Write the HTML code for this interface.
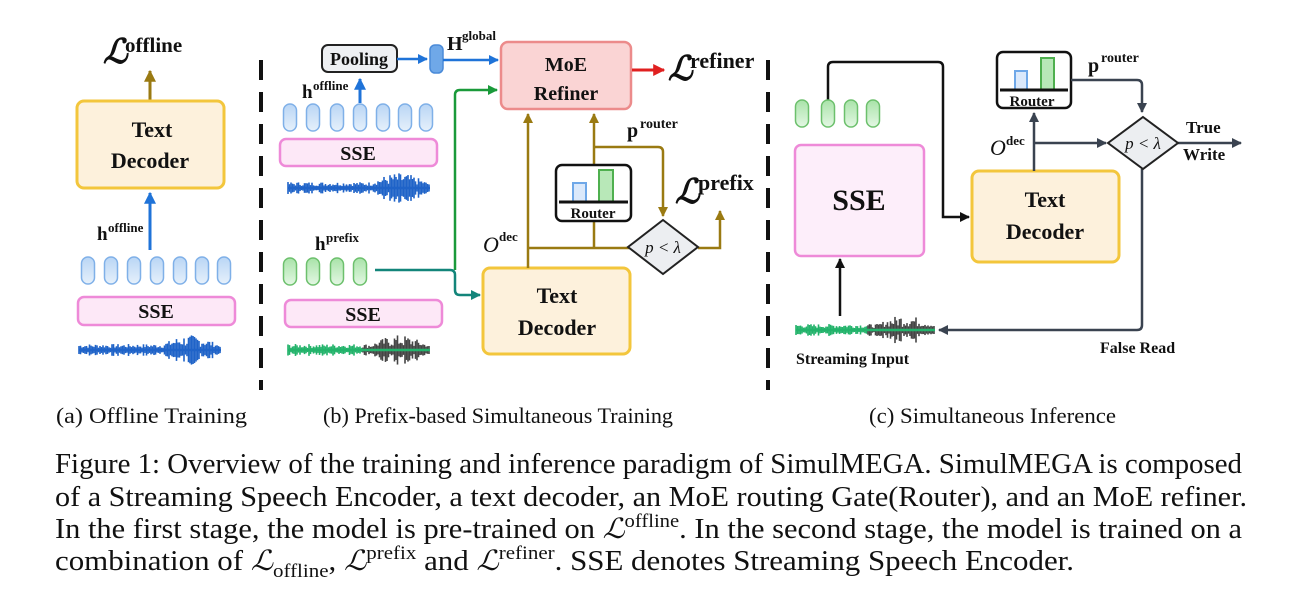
<!DOCTYPE html>
<html><head><meta charset="utf-8"><style>
html,body{margin:0;padding:0;background:#fff;}
svg{display:block;}
.b{font-family:"Liberation Serif",serif;font-weight:bold;fill:#111;}
.r{font-family:"Liberation Serif",serif;fill:#111;}
</style></head><body>
<svg id="s" width="1299" height="610" viewBox="0 0 1299 610" xmlns="http://www.w3.org/2000/svg">
<defs>
<linearGradient id="gb" x1="0" y1="0" x2="0" y2="1"><stop offset="0" stop-color="#b9d5f5"/><stop offset="1" stop-color="#e6f0fb"/></linearGradient>
<linearGradient id="gg" x1="0" y1="0" x2="0" y2="1"><stop offset="0" stop-color="#a9e3a9"/><stop offset="1" stop-color="#e3f7e3"/></linearGradient>
<marker id="aGold" viewBox="0 0 10 10" refX="9" refY="5" markerWidth="4" markerHeight="4" orient="auto"><path d="M0,0L10,5L0,10z" fill="#9a7a12"/></marker>
<marker id="aBlue" viewBox="0 0 10 10" refX="9" refY="5" markerWidth="4" markerHeight="4" orient="auto"><path d="M0,0L10,5L0,10z" fill="#1f73d8"/></marker>
<marker id="aRed" viewBox="0 0 10 10" refX="9" refY="5" markerWidth="4" markerHeight="4" orient="auto"><path d="M0,0L10,5L0,10z" fill="#e02020"/></marker>
<marker id="aGreen" viewBox="0 0 10 10" refX="9" refY="5" markerWidth="4" markerHeight="4" orient="auto"><path d="M0,0L10,5L0,10z" fill="#1a9a3a"/></marker>
<marker id="aTeal" viewBox="0 0 10 10" refX="9" refY="5" markerWidth="4" markerHeight="4" orient="auto"><path d="M0,0L10,5L0,10z" fill="#13857a"/></marker>
<marker id="aDark" viewBox="0 0 10 10" refX="9" refY="5" markerWidth="4" markerHeight="4" orient="auto"><path d="M0,0L10,5L0,10z" fill="#3a4350"/></marker>
<marker id="aBlack" viewBox="0 0 10 10" refX="9" refY="5" markerWidth="4" markerHeight="4" orient="auto"><path d="M0,0L10,5L0,10z" fill="#111"/></marker>
</defs>

<line x1="261" y1="60" x2="261" y2="390" stroke="#111" stroke-width="4" stroke-dasharray="20,12"/>
<line x1="768" y1="60" x2="768" y2="390" stroke="#111" stroke-width="4" stroke-dasharray="20,12"/>

<!-- Panel a -->
<text x="103" y="63" class="b" font-size="34" font-style="italic">ℒ</text>
<text x="125" y="52" class="b" font-size="21">offline</text>
<line x1="150" y1="100" x2="150" y2="71" stroke="#9a7a12" stroke-width="3" marker-end="url(#aGold)"/>
<rect x="77" y="101" width="147" height="87" rx="7" fill="#fdf1dc" stroke="#f3c63c" stroke-width="3"/>
<text x="152" y="137" class="b" font-size="22" text-anchor="middle">Text</text>
<text x="150" y="168" class="b" font-size="22" text-anchor="middle">Decoder</text>
<line x1="150" y1="250" x2="150" y2="193" stroke="#1f73d8" stroke-width="3" marker-end="url(#aBlue)"/>
<text x="97" y="240" class="b" font-size="19">h</text><text x="108" y="232" class="b" font-size="13">offline</text>
<rect x="78" y="297" width="157" height="28" rx="6" fill="#fde8f7" stroke="#ee8ad8" stroke-width="2.5"/>
<text x="156" y="318" class="b" font-size="20" text-anchor="middle">SSE</text>

<!-- Panel b -->
<rect x="322" y="45" width="75" height="27" rx="6" fill="#eef0f3" stroke="#222" stroke-width="2"/>
<text x="359" y="65" class="b" font-size="18" text-anchor="middle">Pooling</text>
<line x1="397" y1="59" x2="427" y2="59" stroke="#1f73d8" stroke-width="2.5" marker-end="url(#aBlue)"/>
<rect x="430" y="45" width="13" height="28" rx="5" fill="#6fa8e8" stroke="#4a8ad8" stroke-width="1.5"/>
<text x="447" y="50" class="b" font-size="20">H</text><text x="462" y="40" class="b" font-size="13">global</text>
<line x1="443" y1="60" x2="498" y2="60" stroke="#1f73d8" stroke-width="2.5" marker-end="url(#aBlue)"/>
<text x="302" y="98" class="b" font-size="19">h</text><text x="313" y="90" class="b" font-size="13">offline</text>
<line x1="360" y1="103" x2="360" y2="79" stroke="#1f73d8" stroke-width="3" marker-end="url(#aBlue)"/>
<rect x="280" y="139" width="157" height="27" rx="6" fill="#fde8f7" stroke="#ee8ad8" stroke-width="2.5"/>
<text x="358" y="160" class="b" font-size="20" text-anchor="middle">SSE</text>
<text x="315" y="250" class="b" font-size="19">h</text><text x="326" y="242" class="b" font-size="13">prefix</text>
<rect x="285" y="300" width="157" height="27" rx="6" fill="#fde8f7" stroke="#ee8ad8" stroke-width="2.5"/>
<text x="363" y="321" class="b" font-size="20" text-anchor="middle">SSE</text>

<path d="M375,270 H450 Q455,270 455,275 V290 Q455,295 460,295 H480" fill="none" stroke="#13857a" stroke-width="2.5" marker-end="url(#aTeal)"/>
<path d="M455,270 V95 Q455,90 460,90 H497" fill="none" stroke="#1a9a3a" stroke-width="2.5" marker-end="url(#aGreen)"/>

<rect x="501" y="42" width="130" height="67" rx="7" fill="#fad4d4" stroke="#ec8b8b" stroke-width="2.5"/>
<text x="566" y="71" class="b" font-size="20" text-anchor="middle">MoE</text>
<text x="566" y="100" class="b" font-size="20" text-anchor="middle">Refiner</text>
<line x1="632" y1="70" x2="664" y2="70" stroke="#e02020" stroke-width="3" marker-end="url(#aRed)"/>
<text x="668" y="80" class="b" font-size="34" font-style="italic">ℒ</text>
<text x="690" y="68" class="b" font-size="22">refiner</text>

<rect x="483" y="268" width="147" height="86" rx="7" fill="#fdf1dc" stroke="#f3c63c" stroke-width="3"/>
<text x="557" y="303" class="b" font-size="22" text-anchor="middle">Text</text>
<text x="557" y="335" class="b" font-size="22" text-anchor="middle">Decoder</text>

<line x1="528" y1="268" x2="528" y2="114" stroke="#9a7a12" stroke-width="2.5" marker-end="url(#aGold)"/>
<line x1="594" y1="248" x2="594" y2="114" stroke="#9a7a12" stroke-width="2.5" marker-end="url(#aGold)"/>
<line x1="528" y1="248" x2="630" y2="248" stroke="#9a7a12" stroke-width="2.5"/>
<path d="M594,147 H658 Q663,147 663,152 V216" fill="none" stroke="#9a7a12" stroke-width="2.5" marker-end="url(#aGold)"/>
<path d="M698,248 H720 V211" fill="none" stroke="#9a7a12" stroke-width="2.5" marker-end="url(#aGold)"/>
<text x="627" y="137" class="b" font-size="20">p</text><text x="640" y="128" class="b" font-size="14">router</text>
<rect x="556" y="165" width="75" height="56" rx="6" fill="#fff" stroke="#111" stroke-width="2.5"/>
<rect x="573" y="183" width="13" height="19" fill="#dbe9fb" stroke="#6fa8e8" stroke-width="2"/>
<rect x="599" y="170" width="14" height="32" fill="#b8e8b8" stroke="#4fb04f" stroke-width="2"/>
<line x1="559" y1="202" x2="628" y2="202" stroke="#111" stroke-width="3"/>
<text x="593" y="218" class="b" font-size="15" text-anchor="middle">Router</text>
<path d="M663,220 L698,247 L663,274 L628,247 Z" fill="#eceef1" stroke="#222" stroke-width="2"/>
<text x="663" y="253" class="r" font-size="17" font-style="italic" text-anchor="middle">p &lt; λ</text>
<text x="675" y="203" class="b" font-size="34" font-style="italic">ℒ</text>
<text x="698" y="190" class="b" font-size="22">prefix</text>
<text x="483" y="252" class="r" font-size="22" font-style="italic">O</text><text x="499" y="241" class="b" font-size="13">dec</text>

<!-- Panel c -->
<path d="M828,100 V67 Q828,62 833,62 H938 Q943,62 943,67 V217 H969" fill="none" stroke="#111" stroke-width="2.5" marker-end="url(#aBlack)"/>
<rect x="795" y="145" width="129" height="111" rx="6" fill="#fdeefa" stroke="#ee8ad8" stroke-width="2.5"/>
<text x="859" y="210" class="b" font-size="30" text-anchor="middle">SSE</text>
<line x1="840" y1="316" x2="840" y2="259" stroke="#111" stroke-width="2.5" marker-end="url(#aBlack)"/>
<rect x="972" y="171" width="147" height="91" rx="7" fill="#fdf1dc" stroke="#f3c63c" stroke-width="3"/>
<text x="1045" y="207" class="b" font-size="22" text-anchor="middle">Text</text>
<text x="1045" y="239" class="b" font-size="22" text-anchor="middle">Decoder</text>
<line x1="1034" y1="171" x2="1034" y2="113" stroke="#3a4350" stroke-width="2.5" marker-end="url(#aDark)"/>
<line x1="1034" y1="143" x2="1106" y2="143" stroke="#3a4350" stroke-width="2.5" marker-end="url(#aDark)"/>
<rect x="997" y="52" width="74" height="56" rx="6" fill="#fff" stroke="#111" stroke-width="2.5"/>
<rect x="1015" y="71" width="12" height="19" fill="#dbe9fb" stroke="#6fa8e8" stroke-width="2"/>
<rect x="1041" y="58" width="13" height="32" fill="#b8e8b8" stroke="#4fb04f" stroke-width="2"/>
<line x1="1000" y1="90" x2="1068" y2="90" stroke="#111" stroke-width="3"/>
<text x="1032" y="106" class="b" font-size="15" text-anchor="middle">Router</text>
<path d="M1071,80 H1137 Q1142,80 1142,85 V112" fill="none" stroke="#3a4350" stroke-width="2.5" marker-end="url(#aDark)"/>
<text x="1088" y="72" class="b" font-size="20">p</text><text x="1101" y="62" class="b" font-size="14">router</text>
<path d="M1142,169 V325 Q1142,330 1137,330 H939" fill="none" stroke="#3a4350" stroke-width="2.5" marker-end="url(#aDark)"/>
<line x1="1178" y1="143" x2="1241" y2="143" stroke="#3a4350" stroke-width="2.5" marker-end="url(#aDark)"/>
<path d="M1143,117 L1178,143 L1143,169 L1108,143 Z" fill="#eceef1" stroke="#222" stroke-width="2"/>
<text x="1143" y="149" class="r" font-size="17" font-style="italic" text-anchor="middle">p &lt; λ</text>
<text x="1186" y="133" class="b" font-size="17">True</text>
<text x="1183" y="160" class="b" font-size="17">Write</text>
<text x="990" y="155" class="r" font-size="22" font-style="italic">O</text><text x="1006" y="145" class="b" font-size="13">dec</text>
<text x="796" y="364" class="b" font-size="16">Streaming Input</text>
<text x="1100" y="353" class="b" font-size="16">False Read</text>

<g id="waves"></g>

<text x="56" y="423" class="r" font-size="22" textLength="191" lengthAdjust="spacingAndGlyphs">(a) Offline Training</text>
<text x="323" y="423" class="r" font-size="22" textLength="350" lengthAdjust="spacingAndGlyphs">(b) Prefix-based Simultaneous Training</text>
<text x="869" y="423" class="r" font-size="22" textLength="247" lengthAdjust="spacingAndGlyphs">(c) Simultaneous Inference</text>

<text x="55" y="473" class="r" font-size="28" textLength="1187" lengthAdjust="spacingAndGlyphs">Figure 1: Overview of the training and inference paradigm of SimulMEGA. SimulMEGA is composed</text>
<text x="55" y="506" class="r" font-size="28" textLength="1192" lengthAdjust="spacingAndGlyphs">of a Streaming Speech Encoder, a text decoder, an MoE routing Gate(Router), and an MoE refiner.</text>
<text x="55" y="538" class="r" font-size="28" textLength="1187" lengthAdjust="spacingAndGlyphs">In the first stage, the model is pre-trained on <tspan font-style="italic">ℒ</tspan><tspan dy="-11" font-size="19">offline</tspan><tspan dy="11">. In the second stage, the model is trained on a</tspan></text>
<text x="55" y="570" class="r" font-size="28" textLength="1019" lengthAdjust="spacingAndGlyphs">combination of <tspan font-style="italic">ℒ</tspan><tspan dy="7" font-size="19">offline</tspan><tspan dy="-7">, </tspan><tspan font-style="italic">ℒ</tspan><tspan dy="-11" font-size="19">prefix</tspan><tspan dy="11"> and </tspan><tspan font-style="italic">ℒ</tspan><tspan dy="-11" font-size="19">refiner</tspan><tspan dy="11">. SSE denotes Streaming Speech Encoder.</tspan></text>
</svg>
<script>
var NS="http://www.w3.org/2000/svg";
function el(p,t,a){var e=document.createElementNS(NS,t);for(var k in a)e.setAttribute(k,a[k]);p.appendChild(e);return e;}
function caps(cx,y,h,g){var G=document.getElementById("s");cx.forEach(function(c){el(G,"rect",{x:c-6.5,y:y,width:13,height:h,rx:6.5,fill:g?"url(#gg)":"url(#gb)",stroke:g?"#6cc06c":"#7fb0e8","stroke-width":1.5});});}
caps([88,111,134,157,180,202,224],257,27,false);
caps([290,313,337,360,383,405,426],104,27,false);
caps([290,313,337,360],258,27,true);
caps([802,828,851,873],100,27,true);
var seed=7;function rnd(){seed=(seed*9301+49297)%233280;return seed/233280;}
function wave(x0,x1,y,split,c1,c2){var W=document.getElementById("waves");
 for(var x=x0;x<=x1;x+=1.5){var t=(x-x0)/(x1-x0);var a=t<0.6?2+rnd()*4:3+rnd()*12*Math.sin(Math.PI*(t-0.6)/0.45+0.3);
 if(a<2)a=2;el(W,"line",{x1:x,y1:y-a,x2:x,y2:y+a,stroke:x<split?c1:c2,"stroke-width":1.6});}
 el(W,"line",{x1:x0,y1:y,x2:x1,y2:y,stroke:c1,"stroke-width":2.5});}
wave(79,221,350,9999,"#1f63c8","#1f63c8");
wave(288,430,188,9999,"#1f63c8","#1f63c8");
wave(288,430,350,362,"#22b36a","#444");
wave(796,935,330,868,"#22b36a","#444");
</script>
</body></html>
